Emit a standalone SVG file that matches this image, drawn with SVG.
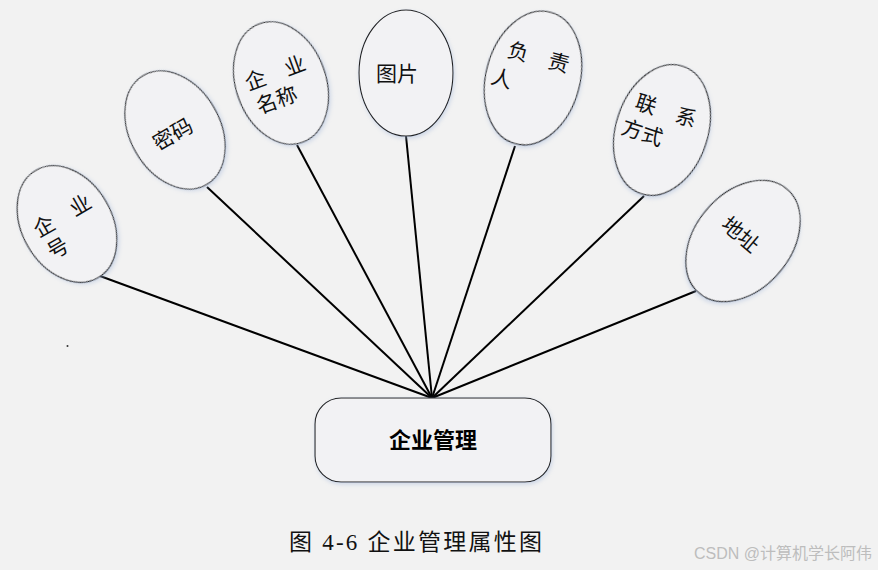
<svg xmlns="http://www.w3.org/2000/svg" width="878" height="570" viewBox="0 0 878 570">
<defs>
<filter id="sh" x="-20%" y="-20%" width="140%" height="140%">
<feGaussianBlur in="SourceAlpha" stdDeviation="2"/>
<feOffset dx="1" dy="2" result="b"/>
<feFlood flood-color="#9fb4d8" flood-opacity="0.45"/>
<feComposite in2="b" operator="in"/>
<feMerge><feMergeNode/><feMergeNode in="SourceGraphic"/></feMerge>
</filter>
</defs>
<style>
.ell{fill:#f2f2f4;stroke:#222;stroke-width:1.1;filter:url(#sh)}
.t{font-family:"Noto Sans CJK SC","Liberation Serif",serif;font-size:21px;fill:#111;text-anchor:middle}
.con line{stroke:#000;stroke-width:2}
</style>
<rect width="878" height="570" fill="#f2f2f2"/>
<g class="con" id="connectors">
<line x1="432" y1="398" x2="100" y2="276"/>
<line x1="432" y1="398" x2="207" y2="187"/>
<line x1="432" y1="398" x2="297" y2="145"/>
<line x1="432" y1="398" x2="406" y2="136"/>
<line x1="432" y1="398" x2="515" y2="146"/>
<line x1="432" y1="398" x2="644" y2="196"/>
<line x1="432" y1="398" x2="696" y2="291"/>
</g>
<g id="n1" transform="translate(67,224) rotate(-30)">
<ellipse class="ell" cx="0" cy="0" rx="45" ry="62"/>
<text class="t" x="0" y="-2">企　业</text>
<text class="t" x="-20" y="24">号</text>
</g>
<g id="n2" transform="translate(175,130) rotate(-30)">
<ellipse class="ell" cx="0" cy="0" rx="45" ry="63"/>
<text class="t" x="-4" y="10">密码</text>
</g>
<g id="n3" transform="translate(281,83) rotate(-20)">
<ellipse class="ell" cx="0" cy="0" rx="45" ry="63"/>
<text class="t" x="-2" y="-4">企　业</text>
<text class="t" x="-10" y="22">名称</text>
</g>
<g id="n4" transform="translate(406,73)">
<ellipse class="ell" cx="0" cy="0" rx="47" ry="63"/>
<text class="t" x="-9" y="8">图片</text>
</g>
<g id="n5" transform="translate(533,78) rotate(15)">
<ellipse class="ell" cx="0" cy="0" rx="47" ry="68"/>
<text class="t" x="0" y="-14">负　责</text>
<text class="t" x="-30" y="16">人</text>
</g>
<g id="n6" transform="translate(662,130) rotate(18)">
<ellipse class="ell" cx="0" cy="0" rx="46" ry="67"/>
<text class="t" x="-2" y="-12">联　系</text>
<text class="t" x="-18" y="16">方式</text>
</g>
<g id="n7" transform="translate(743,241) rotate(40)">
<ellipse class="ell" cx="0" cy="0" rx="48" ry="68"/>
<text class="t" x="-6" y="4">地址</text>
</g>
<g id="n0">
<rect class="ell" x="315" y="398" width="236" height="84" rx="26"/>
<text x="433" y="448" font-family="'Noto Sans CJK SC',sans-serif" font-size="22" font-weight="bold" text-anchor="middle" fill="#000">企业管理</text>
</g>
<circle cx="67.5" cy="346" r="1" fill="#333"/>
<text x="289" y="550" font-family="'Liberation Serif','Noto Sans CJK SC',serif" font-size="23" textLength="253" lengthAdjust="spacing" fill="#111">图 4-6 企业管理属性图</text>
<text x="783" y="559" font-family="'Liberation Sans','Noto Sans CJK SC',sans-serif" font-size="16" text-anchor="middle" fill="#bdbdbd">CSDN @计算机学长阿伟</text>
</svg>
